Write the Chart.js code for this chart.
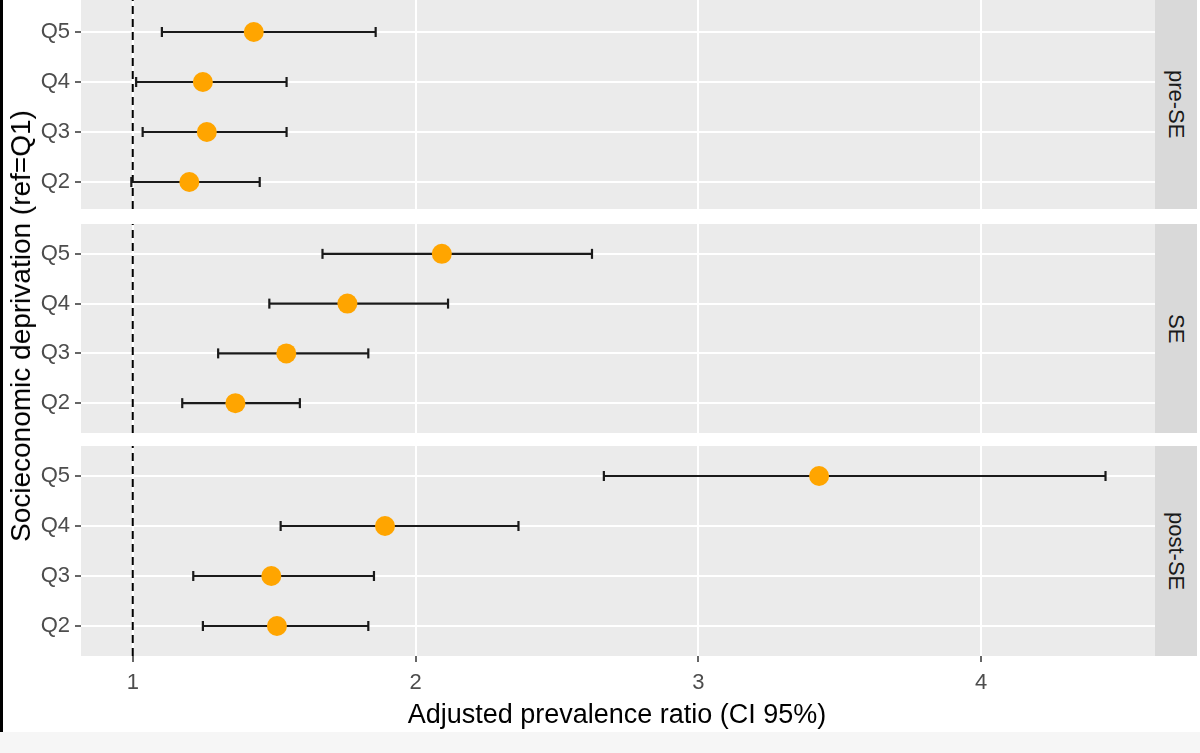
<!DOCTYPE html>
<html>
<head>
<meta charset="utf-8">
<script src="https://cdn.jsdelivr.net/npm/chart.js@4"></script>
<style>
  html, body { margin: 0; padding: 0; background: #ffffff; }
  body { width: 1200px; height: 753px; position: relative; overflow: hidden; font-family: Arial, 'Liberation Sans', sans-serif; }
  .painel { position: absolute; left: 0; width: 1155px; }
  .faixa { position: absolute; left: 1155px; width: 42px; background: #d9d9d9; display: flex; align-items: center; justify-content: center; }
  .faixa span { writing-mode: vertical-rl; font-size: 22px; color: #1a1a1a; white-space: nowrap; }
  #borda { position: absolute; left: 0; top: 0; width: 3px; height: 732px; background: #000; }
  #rodape { position: absolute; left: 0; top: 732px; width: 1200px; height: 21px; background: #f6f6f6; }
  #titulo-x { position: absolute; left: 617px; top: 714px; transform: translate(-50%, -50%); font-size: 27px; color: #000; white-space: nowrap; }
  #titulo-y { position: absolute; left: 21px; top: 326px; transform: translate(-50%, -50%) rotate(-90deg); font-size: 28px; color: #000; white-space: nowrap; }
</style>
</head>
<body>
<div id="borda"></div>
<div id="rodape"></div>

<div class="painel" style="top:0px;height:209px"><canvas id="graficoPre"></canvas></div>
<div class="painel" style="top:224px;height:209px"><canvas id="graficoSE"></canvas></div>
<div class="painel" style="top:446px;height:254px"><canvas id="graficoPos"></canvas></div>

<div class="faixa" style="top:0px;height:209px"><span id="faixa0"></span></div>
<div class="faixa" style="top:224px;height:209px"><span id="faixa1"></span></div>
<div class="faixa" style="top:446px;height:210px"><span id="faixa2"></span></div>

<div id="titulo-x">Adjusted prevalence ratio (CI 95%)</div>
<div id="titulo-y">Socieconomic deprivation (ref=Q1)</div>

<script>
// data (order Q2, Q3, Q4, Q5)
const quintis = ['Q2', 'Q3', 'Q4', 'Q5'];
const periodos = ['pre-SE', 'SE', 'post-SE'];

const preEst = [1.20, 1.262, 1.248, 1.428];
const preLo = [0.995, 1.035, 1.012, 1.103];
const preHi = [1.449, 1.544, 1.544, 1.859];

const seEst = [1.363, 1.543, 1.759, 2.093];
const seLo = [1.175, 1.302, 1.483, 1.671];
const seHi = [1.591, 1.833, 2.115, 2.624];

const posEst = [1.510, 1.490, 1.892, 3.427];
const posLo = [1.248, 1.214, 1.523, 2.666];
const posHi = [1.833, 1.853, 2.364, 4.44];

const xTicks = [1, 2, 3, 4];
const valorRef = 1;

const fonte = "Arial, 'Liberation Sans', sans-serif";

// strip labels
periodos.forEach((p, i) => { document.getElementById('faixa' + i).textContent = p; });

// grey panel background
const fundoPainel = {
  id: 'fundoPainel',
  beforeDraw(chart) {
    const { ctx, chartArea } = chart;
    ctx.save();
    ctx.fillStyle = '#ebebeb';
    ctx.fillRect(chartArea.left, chartArea.top, chartArea.right - chartArea.left, chartArea.bottom - chartArea.top);
    ctx.restore();
  }
};

function criarPainel(id, est, lo, hi, mostrarX, yMin, yMax) {
  const datasets = [];

  // points
  datasets.push({
    type: 'scatter',
    data: est.map((v, i) => ({ x: v, y: i + 1 })),
    backgroundColor: '#ffa500',
    borderWidth: 0,
    pointRadius: 10,
    pointHoverRadius: 10,
    order: 0
  });

  // error bars with caps
  quintis.forEach((q, i) => {
    datasets.push({
      type: 'line',
      data: [{ x: lo[i], y: i + 1 }, { x: hi[i], y: i + 1 }],
      borderColor: '#1a1a1a',
      borderWidth: 2.2,
      pointStyle: 'line',
      rotation: 90,
      pointRadius: 5,
      pointBorderColor: '#1a1a1a',
      pointBorderWidth: 2.2,
      order: 1
    });
  });

  // dashed reference line
  datasets.push({
    type: 'line',
    data: [{ x: valorRef, y: yMin }, { x: valorRef, y: yMax }],
    borderColor: '#000000',
    borderWidth: 2,
    borderDash: [8, 5],
    pointRadius: 0,
    order: 2
  });

  return new Chart(document.getElementById(id).getContext('2d'), {
    type: 'scatter',
    data: { datasets: datasets },
    plugins: [fundoPainel],
    options: {
      responsive: true,
      maintainAspectRatio: false,
      animation: false,
      layout: { padding: 0, autoPadding: false },
      plugins: { legend: { display: false }, tooltip: { enabled: false } },
      scales: {
        x: {
          type: 'linear',
          min: 0.817,
          max: 4.615,
          afterBuildTicks: s => { s.ticks = xTicks.map(v => ({ value: v })); },
          grid: { color: '#ffffff', lineWidth: 2, drawTicks: mostrarX, tickLength: 6, tickColor: '#333333', tickWidth: 1.5 },
          border: { display: false },
          ticks: { display: mostrarX, color: '#4d4d4d', font: { size: 22, family: fonte }, padding: 8, maxRotation: 0 },
          afterFit: s => { s.height = mostrarX ? 44 : 0; s.paddingLeft = 0; s.paddingRight = 0; }
        },
        y: {
          type: 'linear',
          min: yMin,
          max: yMax,
          afterBuildTicks: s => { s.ticks = quintis.map((q, i) => ({ value: i + 1 })); },
          grid: { color: '#ffffff', lineWidth: 2, tickLength: 6, tickColor: '#333333', tickWidth: 1.5 },
          border: { display: false },
          ticks: {
            color: '#4d4d4d',
            font: { size: 22, family: fonte },
            padding: 5,
            callback: v => quintis[v - 1]
          },
          afterFit: s => { s.width = 81; s.paddingTop = 0; s.paddingBottom = 0; }
        }
      }
    }
  });
}

criarPainel('graficoPre', preEst, preLo, preHi, false, 0.46, 4.64);
criarPainel('graficoSE', seEst, seLo, seHi, false, 0.4, 4.6);
criarPainel('graficoPos', posEst, posLo, posHi, true, 0.4, 4.6);
</script>
</body>
</html>
